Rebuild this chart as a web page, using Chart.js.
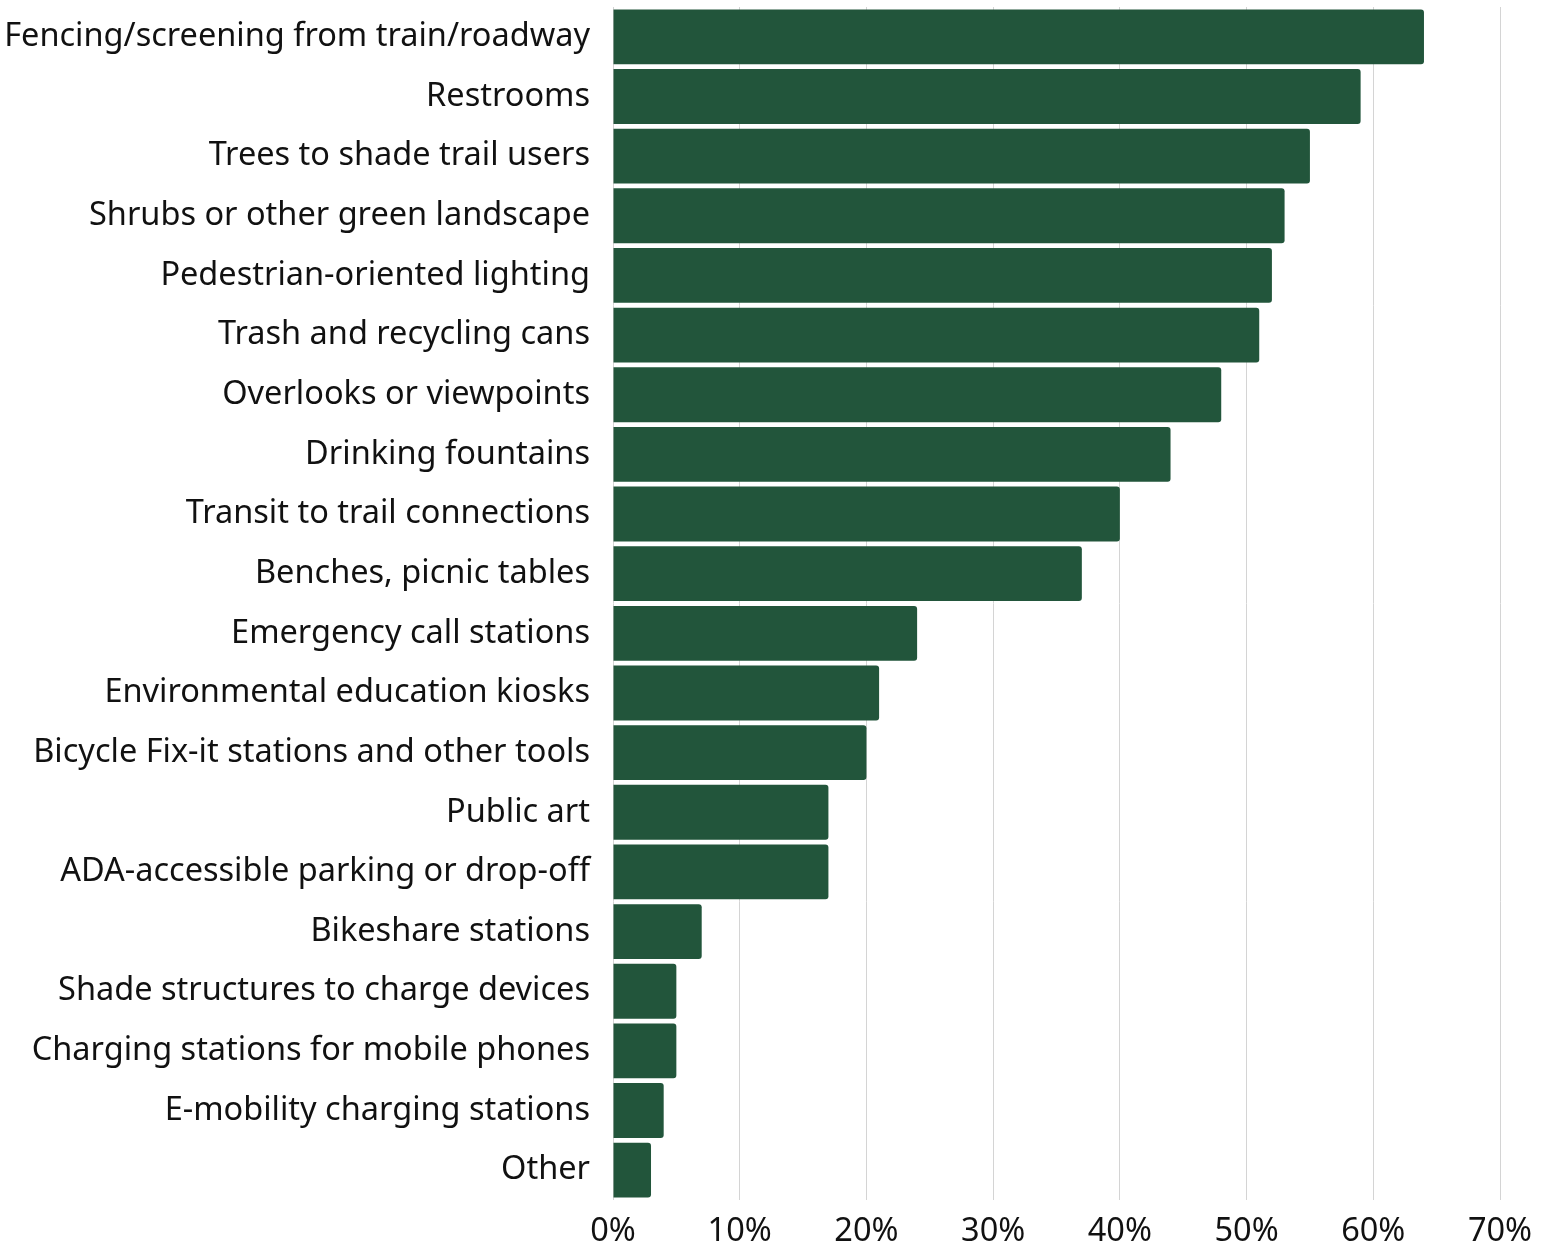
<!DOCTYPE html>
<html>
<head>
<meta charset="utf-8">
<script src="https://cdn.jsdelivr.net/npm/chart.js@4.4.1/dist/chart.umd.min.js"></script>
<style>
  html, body { margin: 0; padding: 0; background: #fff; }
  #wrap { width: 1542px; height: 1245px; }
</style>
</head>
<body>
<div id="wrap"><canvas id="chart"></canvas></div>
<script>
const categories = [
  'Fencing/screening from train/roadway',
  'Restrooms',
  'Trees to shade trail users',
  'Shrubs or other green landscape',
  'Pedestrian-oriented lighting',
  'Trash and recycling cans',
  'Overlooks or viewpoints',
  'Drinking fountains',
  'Transit to trail connections',
  'Benches, picnic tables',
  'Emergency call stations',
  'Environmental education kiosks',
  'Bicycle Fix-it stations and other tools',
  'Public art',
  'ADA-accessible parking or drop-off',
  'Bikeshare stations',
  'Shade structures to charge devices',
  'Charging stations for mobile phones',
  'E-mobility charging stations',
  'Other'
];
const shares = [64, 59, 55, 53, 52, 51, 48, 44, 40, 37, 24, 21, 20, 17, 17, 7, 5, 5, 4, 3];
const xTicks = [0, 10, 20, 30, 40, 50, 60, 70];

const FONT = '"Noto Sans", sans-serif';

new Chart(document.getElementById('chart'), {
  type: 'bar',
  data: {
    labels: categories,
    datasets: [{
      data: shares,
      backgroundColor: '#22553b',
      borderRadius: { topRight: 3, bottomRight: 3, topLeft: 0, bottomLeft: 0 },
      borderSkipped: false,
      barPercentage: 0.92,
      categoryPercentage: 1
    }]
  },
  options: {
    indexAxis: 'y',
    responsive: true,
    maintainAspectRatio: false,
    animation: false,
    layout: { autoPadding: false, padding: { top: 7, right: 42, bottom: 0, left: 0 } },
    plugins: { legend: { display: false }, tooltip: { enabled: false } },
    scales: {
      x: {
        min: 0,
        max: 70,
        afterBuildTicks: axis => { axis.ticks = xTicks.map(v => ({ value: v })); },
        afterFit: axis => {
          axis.height = 45;
          axis.paddingLeft = 0;
          axis.paddingRight = 0;
        },
        grid: { color: '#d4d4d4', lineWidth: 1, drawTicks: false },
        border: { display: false },
        ticks: {
          color: '#111',
          padding: 12,
          font: { family: FONT, size: 32.5 },
          callback: v => v + '%'
        }
      },
      y: {
        afterFit: axis => {
          axis.width = 613;
          axis.paddingTop = 0;
          axis.paddingBottom = 0;
        },
        grid: { display: false },
        border: { display: false },
        ticks: {
          color: '#111',
          padding: 15,
          font: { family: FONT, size: 32.5 }
        }
      }
    }
  }
});
</script>
</body>
</html>
